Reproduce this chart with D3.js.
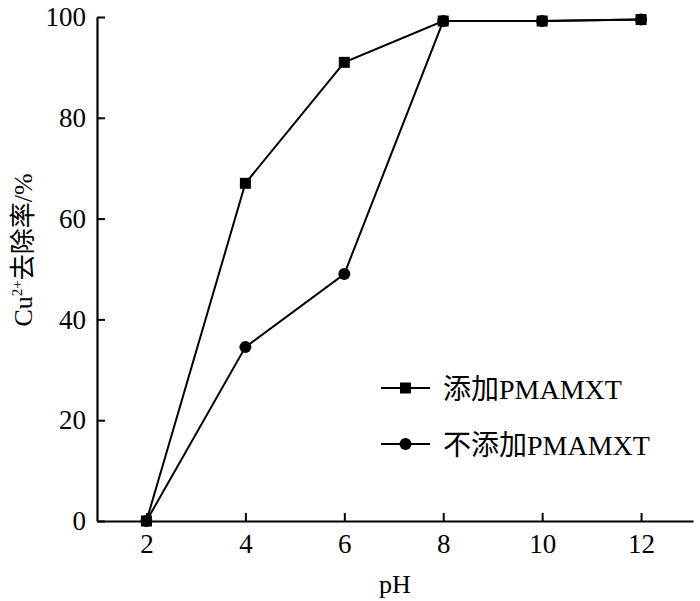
<!DOCTYPE html>
<html><head><meta charset="utf-8">
<script src="https://cdn.jsdelivr.net/npm/d3@7"></script>
<style>body{margin:0;background:#fff}svg{display:block}</style>
</head><body>
<svg id="c" width="700" height="601"></svg>
<script>
const pH = [2, 4, 6, 8, 10, 12];
const withPMAMXT = [0, 67, 91, 99.2, 99.2, 99.5];
const withoutPMAMXT = [0, 34.5, 49, 99.2, 99.2, 99.5];
const xTicks = [2, 4, 6, 8, 10, 12];
const yTicks = [0, 20, 40, 60, 80, 100];
const seriesNames = ["添加PMAMXT", "不添加PMAMXT"];

const font = "'Liberation Serif','Times New Roman','Noto Sans CJK SC',serif";
const svg = d3.select("#c");
const x = d3.scaleLinear().domain([1, 13.05]).range([97, 693]);
const y = d3.scaleLinear().domain([0, 100]).range([521, 17]);

const xAxis = svg.append("g").attr("transform", "translate(0,521)")
  .call(d3.axisBottom(x).tickValues(xTicks).tickSizeInner(-8).tickSizeOuter(0).tickPadding(13));
const yAxis = svg.append("g").attr("transform", "translate(97,0)")
  .call(d3.axisLeft(y).tickValues(yTicks).tickSizeInner(-8).tickSizeOuter(0).tickPadding(11));
[xAxis, yAxis].forEach(g => {
  g.attr("font-family", null).attr("font-size", null);
  g.select(".domain").attr("stroke", "#000").attr("stroke-width", 2.2);
  g.selectAll(".tick line").attr("stroke", "#000").attr("stroke-width", 2);
  g.selectAll(".tick text").style("font-family", font).style("font-size", "27px").attr("fill", "#000");
});

const line = d3.line().x(d => x(d[0])).y(d => y(d[1]));
const s1 = pH.map((p, i) => [p, withPMAMXT[i]]);
const s2 = pH.map((p, i) => [p, withoutPMAMXT[i]]);

svg.append("path").datum(s2).attr("d", line).attr("fill", "none").attr("stroke", "#000").attr("stroke-width", 2);
svg.append("path").datum(s1).attr("d", line).attr("fill", "none").attr("stroke", "#000").attr("stroke-width", 2);
svg.selectAll("circle.m").data(s2).enter().append("circle")
  .attr("cx", d => x(d[0])).attr("cy", d => y(d[1])).attr("r", 6).attr("fill", "#000");
svg.selectAll("rect.m").data(s1).enter().append("rect")
  .attr("x", d => x(d[0]) - 5.5).attr("y", d => y(d[1]) - 5.5).attr("width", 11).attr("height", 11).attr("fill", "#000");

// legend
const lg = svg.append("g");
[388, 444].forEach((ly, i) => {
  lg.append("line").attr("x1", 381).attr("x2", 430).attr("y1", ly).attr("y2", ly).attr("stroke", "#000").attr("stroke-width", 2);
  if (i === 0) lg.append("rect").attr("x", 400).attr("y", ly - 5.5).attr("width", 11).attr("height", 11).attr("fill", "#000");
  else lg.append("circle").attr("cx", 405.5).attr("cy", ly).attr("r", 6).attr("fill", "#000");
  lg.append("text").attr("x", 443).attr("y", ly + 11).style("font-family", font).style("font-size", "28px").text(seriesNames[i]);
});

svg.append("text").attr("x", 395).attr("y", 593).attr("text-anchor", "middle")
  .style("font-family", font).style("font-size", "26px").text("pH");

const yl = svg.append("text").attr("transform", "translate(32,250) rotate(-90)").attr("text-anchor", "middle")
  .style("font-family", font).style("font-size", "26px");
yl.append("tspan").text("Cu");
yl.append("tspan").style("font-size", "15px").attr("dy", -10).text("2+");
yl.append("tspan").attr("dy", 10).text("去除率/%");
</script>
</body></html>
